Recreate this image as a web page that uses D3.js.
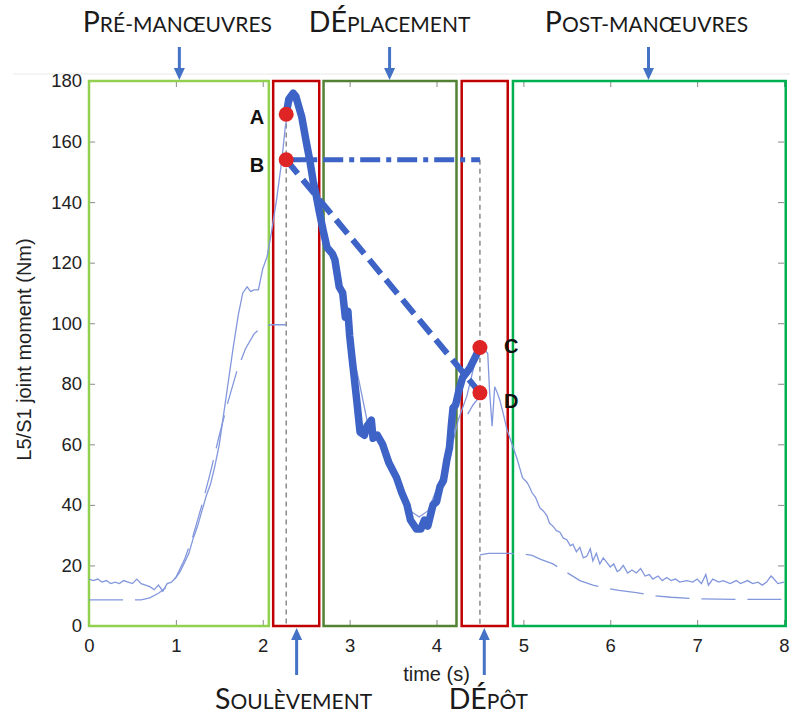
<!DOCTYPE html>
<html>
<head>
<meta charset="utf-8">
<script src="https://cdn.jsdelivr.net/npm/d3@7"></script>
<style>
  body { margin: 0; background: #fff; }
  svg { display: block; }
</style>
</head>
<body>
<div class="chart"></div>
<script>
// ---- data ----
// thin solid curve (measured moment)
var measuredTime = [0.00,0.05,0.10,0.15,0.20,0.25,0.30,0.35,0.40,0.45,0.50,0.55,0.60,0.65,0.70,0.75,0.80,0.85,0.90,0.95,
  1.00,1.05,1.10,1.15,1.20,1.25,1.30,1.35,1.40,1.45,1.50,1.55,1.60,1.66,1.72,1.77,1.82,1.86,1.90,1.95,
  2.00,2.05,2.10,2.16,2.22,2.26,2.30,2.35,2.40,2.45,2.50,2.55,2.60,2.65,2.70,2.75,2.80,2.85,2.90,2.95,
  3.00,3.05,3.10,3.15,3.20,3.30,3.40,3.50,3.60,3.70,3.80,3.90,4.00,4.10,4.20,4.25,4.30,4.35,4.40,4.45,
  4.50,4.55,4.59,4.61,4.64,4.67,4.70,4.73,4.77,4.81,4.87,4.93,4.99,5.04,5.07,5.10,5.14,5.19,5.23,5.27,
  5.30,5.34,5.38,5.42,5.46,5.50,5.54,5.57,5.61,5.65,5.69,5.73,5.77,5.80,5.84,5.88,5.92,5.96,6.00,6.04,
  6.08,6.11,6.15,6.20,6.25,6.30,6.35,6.40,6.45,6.49,6.55,6.60,6.65,6.70,6.75,6.80,6.88,6.95,7.00,7.05,
  7.10,7.13,7.18,7.25,7.30,7.38,7.45,7.50,7.58,7.64,7.70,7.75,7.80,7.85,7.87,7.93,8.00];
var measuredMoment = [15.5,15.0,15.5,14.5,15.0,14.0,14.5,14.0,15.0,14.5,14.0,15.5,14.0,13.5,13.0,12.0,13.5,11.5,14.0,14.5,
  16.0,18.0,21.0,24.0,29.0,33.0,38.0,43.0,47.0,53.0,60.0,70.0,80.0,92.0,103.0,110.0,112.0,110.5,111.0,111.0,
  118.0,122.0,130.0,141.0,154.0,165.0,171.0,174.0,172.0,167.0,159.0,151.0,144.0,137.0,131.0,126.0,122.0,118.0,111.0,104.0,
  95.0,88.0,82.0,75.0,68.0,64.0,60.0,53.0,45.0,38.0,36.0,38.0,45.0,53.0,62.0,68.0,72.0,76.0,82.0,88.0,
  92.0,91.5,90.0,78.0,66.0,79.0,77.0,74.5,70.0,65.0,60.0,55.0,49.0,47.5,46.0,44.0,42.5,39.0,38.0,36.5,
  34.0,33.0,31.5,31.0,29.0,28.5,26.5,27.0,24.5,26.0,22.5,23.0,25.5,21.5,24.0,20.5,22.5,21.0,19.5,20.5,
  18.0,18.5,20.0,17.5,18.5,17.5,19.0,16.5,17.0,15.5,16.5,15.0,16.0,15.0,15.5,14.5,15.0,14.5,15.5,14.0,
  17.0,13.5,15.5,14.5,15.0,14.0,15.0,14.0,15.0,14.0,14.5,13.5,14.5,16.5,16.0,14.0,14.5];

// thin dashed curve (model); NaN = break in the curve
var modelTime = [0.0,0.3,0.6,0.7,0.8,0.9,1.0,1.1,1.2,1.3,1.4,1.5,1.6,1.7,1.8,1.9,2.0,2.1,2.27,2.27,
  4.36,4.42,4.49,4.49,
  4.5,4.6,4.8,5.0,5.1,5.2,5.34,5.45,5.55,5.65,5.8,5.95,6.1,6.3,6.5,6.7,7.0,7.5,8.0];
var modelMoment = [8.6,8.6,8.6,9.3,10.8,13,16,22,30,40,51,63,74,84,91.5,96.5,99,99.5,99.5,NaN,
  70,73,75.5,NaN,
  23.5,24,24,23.8,23.3,22,20.5,18.5,16.8,15,13.5,12.5,11.8,11,10,9.5,9,8.8,8.8];

// thick curve (lifting phase)
var liftTime = [2.27,2.30,2.35,2.38,2.42,2.45,2.50,2.54,2.58,2.61,2.65,2.70,2.74,2.80,2.83,2.88,2.92,2.95,2.98,3.00,
  3.03,3.08,3.12,3.17,3.20,3.25,3.27,3.32,3.38,3.45,3.54,3.60,3.66,3.70,3.77,3.82,3.86,3.90,3.96,4.00,
  4.04,4.08,4.12,4.15,4.17,4.19,4.22,4.26,4.30,4.38,4.45,4.50];
var liftMoment = [169,174,176,175,171,168,160,154,147,143,137,130,125,123,121,112,110,102,104,96,
  88,75,64,63,66,68,62,63,60,54,49,44,40,35,32,32,35,33,40,41,
  46,48,55,59,66,72,73,78,82,85,89,92];

// key points
var pointLabels = ["A", "B", "C", "D"];
var pointTime = [2.27, 2.27, 4.5, 4.5];
var pointMoment = [169, 154, 92, 77];

// phases (boxes)
var phaseStart = [0, 2.12, 2.70, 4.29, 4.88];
var phaseEnd = [2.07, 2.65, 4.23, 4.82, 8.02];

// phase captions
var topCaptions = ["Pré-manœuvres", "DÉplacement", "Post-manœuvres"];
var topCaptionTime = [1.04, 3.46, 6.44];
var bottomCaptions = ["Soulèvement", "DÉpôt"];
var bottomCaptionTime = [2.39, 4.55];

var xTicks = [0, 1, 2, 3, 4, 5, 6, 7, 8];
var yTicks = [0, 20, 40, 60, 80, 100, 120, 140, 160, 180];

// ---- drawing ----
var width = 790, height = 715;
var margin = {top: 81, right: 6, bottom: 89, left: 89};

var svg = d3.select('.chart')
  .append('svg')
    .attr('width', width)
    .attr('height', height);

var x = d3.scaleLinear()
  .domain([0, 8])
  .range([margin.left, width - margin.right]);
var y = d3.scaleLinear()
  .domain([0, 180])
  .range([height - margin.bottom, margin.top]);

var lineBlue = "#3d63c6";
var thinBlue = "#8397dc";
var tickFont = "'Liberation Sans', Arial, sans-serif";
var capFont = "Lato, 'Open Sans', sans-serif";

// faint line above the plot
svg.append("line")
  .attr("x1", 13).attr("x2", width)
  .attr("y1", 74).attr("y2", 74)
  .attr("stroke", "#e8e8e8")
  .attr("stroke-width", 1);

// axes with inward ticks
function styleAxis(g) {
  g.select(".domain").remove();
  g.selectAll(".tick line").attr("stroke", "#8a8a8a");
  g.selectAll("text")
    .attr("fill", "#222")
    .style("font-family", tickFont)
    .style("font-size", "18.5px");
}
svg.append("g")
  .attr("transform", `translate(0,${y(0)})`)
  .call(d3.axisBottom(x).tickValues(xTicks).tickSize(-6).tickPadding(13).tickFormat(d3.format("d")))
  .call(styleAxis);
svg.append("g")
  .attr("transform", `translate(0,${y(180)})`)
  .call(d3.axisTop(x).tickValues(xTicks).tickSize(-6).tickFormat(""))
  .call(styleAxis);
svg.append("g")
  .attr("transform", `translate(${x(0)},0)`)
  .call(d3.axisLeft(y).tickValues(yTicks).tickSize(-6).tickPadding(7).tickFormat(d3.format("d")))
  .call(styleAxis);
svg.append("g")
  .attr("transform", `translate(${x(8)},0)`)
  .call(d3.axisRight(y).tickValues(yTicks).tickSize(-6).tickFormat(""))
  .call(styleAxis);

// axis titles
svg.append("text")
  .attr("x", (x(0) + x(8)) / 2)
  .attr("y", 681)
  .attr("text-anchor", "middle")
  .style("font-family", tickFont)
  .style("font-size", "20px")
  .attr("fill", "#222")
  .text("time (s)");
svg.append("text")
  .attr("transform", `translate(31,${(y(0) + y(180)) / 2 - 4}) rotate(-90)`)
  .attr("text-anchor", "middle")
  .style("font-family", tickFont)
  .style("font-size", "20px")
  .attr("fill", "#222")
  .text("L5/S1 joint moment (Nm)");

// phase boxes
var phaseColors = ["#92d050", "#c00000", "#548235", "#c00000", "#00b050"];
svg.selectAll(".phase")
  .data(phaseStart)
  .enter().append("rect")
    .attr("class", "phase")
    .attr("x", d => x(d))
    .attr("y", y(180))
    .attr("width", (d, i) => x(phaseEnd[i]) - x(d))
    .attr("height", y(0) - y(180))
    .attr("fill", "none")
    .attr("stroke", (d, i) => phaseColors[i])
    .attr("stroke-width", 2.5);

// gray dashed markers
var markerTime = [pointTime[0], pointTime[2]];
var markerTop = [pointMoment[0] - 3, pointMoment[1]];
svg.selectAll(".marker")
  .data(markerTime)
  .enter().append("line")
    .attr("class", "marker")
    .attr("x1", d => x(d)).attr("x2", d => x(d))
    .attr("y1", (d, i) => y(markerTop[i]))
    .attr("y2", y(0))
    .attr("stroke", "#7a7a7a")
    .attr("stroke-width", 1.3)
    .attr("stroke-dasharray", "5,4");

function zip(ts, vs) {
  return ts.map((t, i) => ({t: t, v: vs[i]}));
}
var line = d3.line()
  .defined(d => !isNaN(d.v))
  .x(d => x(d.t))
  .y(d => y(d.v));

// thin curves
svg.append("path")
  .datum(zip(modelTime, modelMoment))
  .attr("d", line)
  .attr("fill", "none")
  .attr("stroke", thinBlue)
  .attr("stroke-width", 1.3)
  .attr("stroke-dasharray", "34,12");
svg.append("path")
  .datum(zip(measuredTime, measuredMoment))
  .attr("d", line)
  .attr("fill", "none")
  .attr("stroke", thinBlue)
  .attr("stroke-width", 1.3);

// straight references B -> end (dash-dot) and B -> D (dashed)
svg.append("path")
  .datum(zip([pointTime[1], pointTime[2]], [pointMoment[1], pointMoment[1]]))
  .attr("d", line)
  .attr("fill", "none")
  .attr("stroke", lineBlue)
  .attr("stroke-width", 5)
  .attr("stroke-dasharray", "20,6,5,6");
svg.append("path")
  .datum(zip([pointTime[1], pointTime[3]], [pointMoment[1], pointMoment[3]]))
  .attr("d", line)
  .attr("fill", "none")
  .attr("stroke", lineBlue)
  .attr("stroke-width", 6)
  .attr("stroke-dasharray", "18,8");

// thick curve
svg.append("path")
  .datum(zip(liftTime, liftMoment))
  .attr("d", line)
  .attr("fill", "none")
  .attr("stroke", lineBlue)
  .attr("stroke-width", 7.5)
  .attr("stroke-linejoin", "round")
  .attr("stroke-linecap", "round");

// key points
svg.selectAll(".pt")
  .data(pointTime)
  .enter().append("circle")
    .attr("class", "pt")
    .attr("cx", d => x(d))
    .attr("cy", (d, i) => y(pointMoment[i]))
    .attr("r", 7.5)
    .attr("fill", "#de2424");

var labelDx = [-22, -22, 24, 24];
var labelDy = [10, 12, 6, 15];
svg.selectAll(".ptlabel")
  .data(pointLabels)
  .enter().append("text")
    .attr("class", "ptlabel")
    .attr("x", (d, i) => x(pointTime[i]) + labelDx[i])
    .attr("y", (d, i) => y(pointMoment[i]) + labelDy[i])
    .attr("text-anchor", (d, i) => i < 2 ? "end" : "start")
    .style("font-family", tickFont)
    .style("font-weight", "bold")
    .style("font-size", "20px")
    .attr("fill", "#111")
    .text(d => d);

// small-caps captions: capital letters big, lower-case letters as small capitals
function caption(str, cx, baseline) {
  var t = svg.append("text")
    .attr("x", cx)
    .attr("y", baseline)
    .attr("text-anchor", "middle")
    .style("font-family", capFont)
    .attr("fill", "#1a1a1a");
  var runs = str.match(/[A-ZÀ-ÖØ-Þ]+|[^A-ZÀ-ÖØ-Þ]+/g);
  runs.forEach(function(r) {
    var big = r === r.toUpperCase() && r !== r.toLowerCase();
    t.append("tspan")
      .style("font-size", big ? "28.5px" : "21px")
      .text(r.toUpperCase());
  });
  return t;
}
function arrow(cx, yTail, yTip) {
  var dir = yTip > yTail ? 1 : -1;
  svg.append("line")
    .attr("x1", cx).attr("x2", cx)
    .attr("y1", yTail).attr("y2", yTip - dir * 10)
    .attr("stroke", "#4472c4")
    .attr("stroke-width", 3);
  svg.append("path")
    .attr("d", `M${cx - 5.5},${yTip - dir * 12} L${cx + 5.5},${yTip - dir * 12} L${cx},${yTip} Z`)
    .attr("fill", "#4472c4");
}

var captionShift = [-2, 0, -2];
topCaptions.forEach(function(c, i) {
  caption(c, x(topCaptionTime[i]) + captionShift[i], 32);
  arrow(x(topCaptionTime[i]), 47, 80);
});
var bottomShift = [-3, 4];
bottomCaptions.forEach(function(c, i) {
  caption(c, x(bottomCaptionTime[i]) + bottomShift[i], 709);
  arrow(x(bottomCaptionTime[i]), 675, 628);
});
</script>
</body>
</html>
